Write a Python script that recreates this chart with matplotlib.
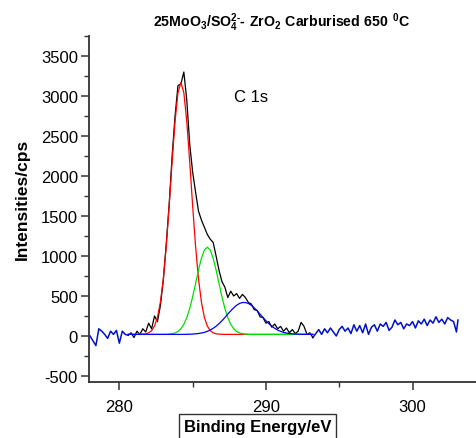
import numpy as np
import matplotlib
matplotlib.use("Agg")
from matplotlib import pyplot as plt
from matplotlib.ticker import MultipleLocator

plt.rcParams["font.family"] = ["Liberation Sans", "DejaVu Sans"]
plt.rcParams["axes.unicode_minus"] = False
plt.rcParams["mathtext.fontset"] = "custom"
plt.rcParams["mathtext.rm"] = "Liberation Sans:bold"
plt.rcParams["mathtext.bf"] = "Liberation Sans:bold"

# raw spectrum outside the fitted window (blue)
left_x = [278.0, 278.2, 278.4, 278.6, 278.8, 279.0, 279.2, 279.4, 279.6, 279.8,
          280.0, 280.2, 280.4, 280.6]
left_y = [0, -60, -120, 90, 60, 20, -30, 60, 20, 70, -90, 60, 20, 10]

right_x = [293.2, 293.4, 293.6, 293.8, 294.0, 294.2, 294.4, 294.6, 294.8, 295.0,
           295.2, 295.4, 295.6, 295.8, 296.0, 296.2, 296.4, 296.6, 296.8, 297.0,
           297.2, 297.4, 297.6, 297.8, 298.0, 298.2, 298.4, 298.6, 298.8, 299.0,
           299.2, 299.4, 299.6, 299.8, 300.0, 300.2, 300.4, 300.6, 300.8, 301.0,
           301.2, 301.4, 301.6, 301.8, 302.0, 302.2, 302.4, 302.6, 302.8, 303.0,
           303.1]
right_y = [-20, 30, 80, 20, 90, 40, 100, 50, 0, 80,
           120, 60, 100, 30, 140, 60, 130, 40, 150, 20,
           110, 140, 60, 150, 120, 170, 70, 110, 200, 140,
           170, 90, 150, 130, 180, 100, 190, 150, 210, 130,
           200, 160, 240, 170, 210, 150, 230, 200, 180, 50,
           200]

# raw spectrum inside the fitted window (black)
peak_x = [280.6, 280.8, 281.0, 281.2, 281.4, 281.6, 281.8, 282.0, 282.2, 282.4,
          282.6, 282.8, 283.0, 283.2, 283.4, 283.6, 283.8, 284.0, 284.2, 284.4,
          284.6, 284.8, 285.0, 285.2, 285.4, 285.6, 285.8, 286.0, 286.2, 286.4,
          286.6, 286.8, 287.0, 287.2, 287.4, 287.6, 287.8, 288.0, 288.2, 288.4,
          288.6, 288.8, 289.0, 289.2, 289.4, 289.6, 289.8, 290.0, 290.2, 290.4,
          290.6, 290.8, 291.0, 291.2, 291.4, 291.6, 291.8, 292.0, 292.2, 292.4,
          292.6, 292.8, 293.0, 293.2]
peak_y = [10, 40, -20, 60, 20, 90, 50, 160, 90, 250,
          180, 380, 700, 1150, 1650, 2250, 2750, 3130, 3150, 3300,
          2950, 2400, 2050, 1800, 1560, 1450, 1360, 1270, 1210, 1170,
          1000, 820, 680, 610, 480, 560, 500, 530, 470, 520,
          480, 420, 400, 330, 320, 240, 230, 160, 180, 110,
          150, 90, 120, 60, 100, 40, 80, 30, 60, 170,
          120, 20, 40, -20]

# fitted components
fit_x = [280.6, 281.0, 281.4, 281.8, 282.0, 282.2, 282.4, 282.6, 282.8, 283.0,
         283.2, 283.4, 283.6, 283.8, 284.0, 284.2, 284.4, 284.6, 284.8, 285.0,
         285.2, 285.4, 285.6, 285.8, 286.0, 286.2, 286.4, 286.6, 286.8, 287.0,
         287.2, 287.4, 287.6, 287.8, 288.0, 288.2, 288.4, 288.6, 288.8, 289.0,
         289.2, 289.4, 289.6, 289.8, 290.0, 290.2, 290.4, 290.6, 290.8, 291.0,
         291.2, 291.4, 291.6, 291.8, 292.0, 292.4, 292.8, 293.2]
red_y = [20, 20, 21, 27, 39, 67, 125, 234, 422, 714,
         1122, 1629, 2179, 2683, 3041, 3170, 3041, 2683, 2179, 1629,
         1122, 714, 422, 234, 125, 67, 39, 27, 23, 21,
         20, 20, 20, 20, 20, 20, 20, 20, 20, 20,
         20, 20, 20, 20, 20, 20, 20, 20, 20, 20,
         20, 20, 20, 20, 20, 20, 20, 20]
green_y = [20, 20, 20, 20, 20, 20, 20, 20, 20, 20,
           20, 24, 28, 38, 57, 91, 146, 229, 344, 489,
           655, 825, 972, 1074, 1110, 1074, 972, 825, 655, 489,
           344, 229, 146, 91, 57, 38, 28, 24, 21, 20,
           20, 20, 20, 20, 20, 20, 20, 20, 20, 20,
           20, 20, 20, 20, 20, 20, 20, 20]
blue_y = [20, 20, 20, 20, 20, 20, 20, 20, 20, 20,
          20, 20, 20, 20, 20, 20, 20, 21, 22, 24,
          27, 31, 37, 45, 58, 74, 96, 122, 154, 191,
          231, 273, 315, 352, 384, 407, 418, 418, 407, 384,
          352, 315, 273, 231, 191, 154, 122, 96, 74, 58,
          45, 37, 31, 27, 24, 21, 20, 20]

fig = plt.figure(figsize=(4.77, 4.39), dpi=100)
ax = fig.add_axes([0.1866, 0.1276, 0.8134, 0.7881])

ax.plot(left_x, left_y, color="#0010c8", lw=1.1)
ax.plot(right_x, right_y, color="#0010c8", lw=1.1)
ax.plot(peak_x, peak_y, color="black", lw=0.9)
ax.plot(fit_x, red_y, color="#ff0000", lw=0.9)
ax.plot(fit_x, green_y, color="#00e000", lw=0.9)
ax.plot(fit_x, blue_y, color="#0000ff", lw=0.9)

ax.set_xlim(277.93, 304.4)
ax.set_ylim(-575, 3750)
ax.xaxis.set_major_locator(MultipleLocator(10))
ax.xaxis.set_minor_locator(MultipleLocator(5))
ax.yaxis.set_major_locator(MultipleLocator(500))
ax.yaxis.set_minor_locator(MultipleLocator(250))

for side in ["top", "right"]:
    ax.spines[side].set_visible(False)
for side in ["left", "bottom"]:
    ax.spines[side].set_linewidth(1.3)
    ax.spines[side].set_color("#333333")
ax.tick_params(which="major", length=6, width=1.1, labelsize=12, color="#333333")
ax.tick_params(which="minor", length=3.5, width=1.0, color="#333333")
ax.tick_params(axis="x", pad=6)
ax.tick_params(axis="y", pad=2)

ax.text(287.8, 3000, "C 1s", fontsize=12, va="center")

fig.text(0.59, 0.948,
         r"$\mathbf{25MoO_3/SO_4^{2\text{-}}\text{-}\ ZrO_2\ Carburised\ 650\ {}^0C}$",
         ha="center", va="center", fontsize=10.2)
fig.text(0.046, 0.545, "Intensities/cps", rotation=90, ha="center",
         va="center", fontsize=12.5, fontweight="bold")
fig.text(0.54, 0.027, "Binding Energy/eV", ha="center", va="center",
         fontsize=12, fontweight="bold",
         bbox=dict(boxstyle="square,pad=0.3", fc="white", ec="#333333", lw=1))

fig.savefig("out.png", dpi=100)
